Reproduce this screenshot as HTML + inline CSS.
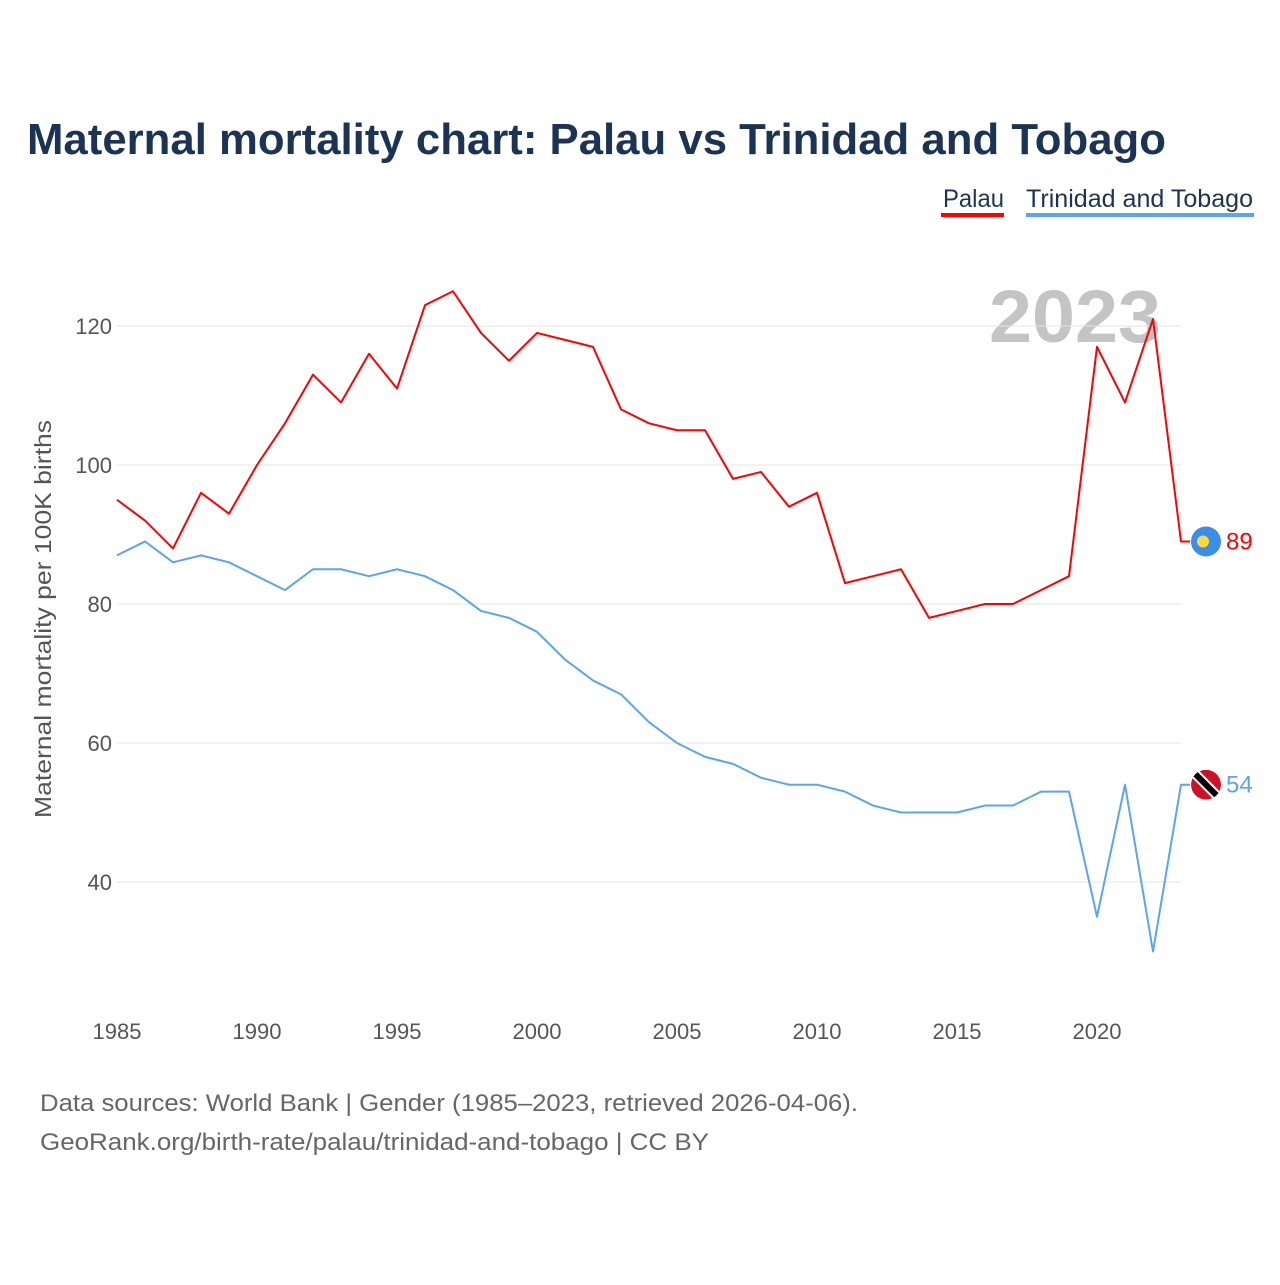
<!DOCTYPE html>
<html><head><meta charset="utf-8"><style>
body{margin:0;background:#fff;font-family:"Liberation Sans",sans-serif}
</style></head><body>
<svg width="1280" height="1280" xmlns="http://www.w3.org/2000/svg">
<text x="27" y="154" font-size="44" font-weight="bold" fill="#1b3354" textLength="1139" lengthAdjust="spacingAndGlyphs">Maternal mortality chart: Palau vs Trinidad and Tobago</text>
<g>
<text x="943" y="207" font-size="25" fill="#1b3354" textLength="61" lengthAdjust="spacingAndGlyphs">Palau</text>
<rect x="941" y="213" width="63" height="4" fill="#ff0000"/>
<text x="1026" y="207" font-size="25" fill="#1b3354" textLength="227" lengthAdjust="spacingAndGlyphs">Trinidad and Tobago</text>
<rect x="1026" y="213" width="228" height="4" fill="#5aa5ee"/>
</g>
<text x="989" y="342" font-size="74" font-weight="bold" fill="#c4c4c4" textLength="172" lengthAdjust="spacingAndGlyphs">2023</text>
<g id="grid"></g>
<g id="xt"></g>
<text transform="translate(51,818) rotate(-90)" font-size="23" fill="#555" textLength="398" lengthAdjust="spacingAndGlyphs">Maternal mortality per 100K births</text>
<g id="lines"></g>
<g>
<g id="m1"><circle r="15" fill="#3a8de8"/><circle cx="-3" r="6" fill="#ffd740"/></g>
<g id="m2"><clipPath id="cp"><circle r="15"/></clipPath><g clip-path="url(#cp)"><circle r="15" fill="#ce1126"/><line x1="-15" y1="-15" x2="15" y2="15" stroke="#fff" stroke-width="10"/><line x1="-15" y1="-15" x2="15" y2="15" stroke="#000" stroke-width="6"/></g></g>
<text id="v1" font-size="24" fill="#ff0000"></text>
<text id="v2" font-size="24" fill="#5aa5ee"></text>
</g>
<text x="40" y="1111" font-size="24" fill="#666" textLength="818" lengthAdjust="spacingAndGlyphs">Data sources: World Bank | Gender (1985–2023, retrieved 2026-04-06).</text>
<text x="40" y="1150" font-size="24" fill="#666" textLength="669" lengthAdjust="spacingAndGlyphs">GeoRank.org/birth-rate/palau/trinidad-and-tobago | CC BY</text>
</svg>
<script>
const years=[];for(let y=1985;y<=2023;y++)years.push(y);
const palau=[95,92,88,96,93,100,106,113,109,116,111,123,125,119,115,119,118,117,108,106,105,105,98,99,94,96,83,84,85,78,79,80,80,82,84,117,109,121,89];
const trinidad=[87,89,86,87,86,84,82,85,85,84,85,84,82,79,78,76,72,69,67,63,60,58,57,55,54,54,53,51,50,50,50,51,51,53,53,35,54,30,54];
const yTicks=[40,60,80,100,120];
const xTicks=[1985,1990,1995,2000,2005,2010,2015,2020];
const NS='http://www.w3.org/2000/svg';
const X=v=>117+(v-1985)*28;
const Y=v=>465-(v-100)*6.95;
function mk(t,a,p){const e=document.createElementNS(NS,t);for(const k in a)e.setAttribute(k,a[k]);p.appendChild(e);return e;}
const grid=document.getElementById('grid');
yTicks.forEach(t=>{
 const l=mk('line',{x1:117,x2:1181,y1:Y(t),y2:Y(t),stroke:'#e6e6e6','stroke-width':1},grid);
 
 
 const tx=mk('text',{x:112,y:Y(t)+8,'font-size':22,fill:'#555','text-anchor':'end'},grid);
 tx.textContent=t;
 
 
});
const xt=document.getElementById('xt');
xTicks.forEach(t=>{
 const tx=mk('text',{x:X(t),y:1039,'font-size':22,fill:'#555','text-anchor':'middle'},xt);
 tx.textContent=t;
 
 
});
const lines=document.getElementById('lines');
function series(d,c,name,m,v){
 let pts=d.map((val,i)=>X(years[i])+','+Y(val));
 const last=d[d.length-1];
 pts.push((X(2023)+9)+','+Y(last));
 const p=mk('polyline',{points:pts.join(' '),fill:'none',stroke:c,'stroke-width':2,'stroke-linejoin':'round'},lines);
 
 
 document.getElementById(m).setAttribute('transform','translate(1206,'+Y(last)+')');
 const t=document.getElementById(v);t.setAttribute('x',1226);t.setAttribute('y',Y(last)+8);t.textContent=last;
}
series(trinidad,'#5aa5ee','trinidad-line','m2','v2');
series(palau,'#ff0000','palau-line','m1','v1');
</script>
</body></html>
